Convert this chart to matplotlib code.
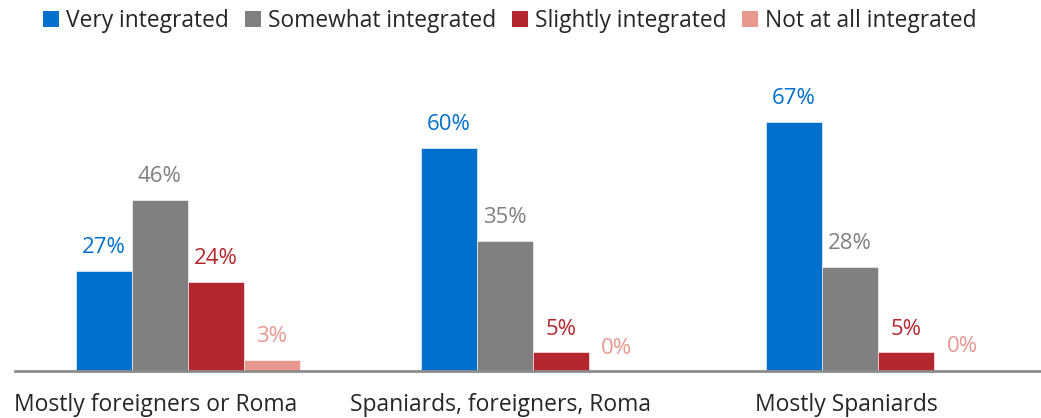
import matplotlib
matplotlib.use("Agg")
import matplotlib.pyplot as plt
import matplotlib.transforms as mtransforms
from matplotlib.patches import Patch
import numpy as np

categories = ["Mostly foreigners or Roma", "Spaniards, foreigners, Roma", "Mostly Spaniards"]
series = ["Very integrated", "Somewhat integrated", "Slightly integrated", "Not at all integrated"]
very = [27, 60, 67]
somewhat = [46, 35, 28]
slightly = [24, 5, 5]
not_at_all = [3, 0, 0.3]
labels_not_at_all = ["3%", "0%", "0%"]

colors = ["#0070CC", "#808080", "#B5272E", "#E8988F"]
text_color = "#262626"

plt.rcParams['font.family'] = ['Open Sans', 'DejaVu Sans']

fig = plt.figure(figsize=(10.41, 4.18), dpi=100)
ax = fig.add_axes([15/1041, 47/418, 1 - 15/1041, 279/418])

values = [very, somewhat, slightly, not_at_all]
x = np.arange(len(categories))
bw = 0.1623
offsets = (np.arange(4) - 1.5) * bw
for i, (vals, col) in enumerate(zip(values, colors)):
    bars = ax.bar(x + offsets[i], vals, width=bw, color=col, edgecolor='white', linewidth=0.4)
    for j, (b, v) in enumerate(zip(bars, vals)):
        lab = labels_not_at_all[j] if i == 3 else f"{v:.0f}%"
        ax.annotate(lab, (b.get_x() + b.get_width()/2, b.get_height()),
                    xytext=(0, 9), textcoords='offset points', ha='center', va='bottom',
                    color=col, fontsize=16)

ax.set_xlim(-0.5, 2 + (1041 - 878) / 345)
ax.set_ylim(0, 75)
ax.set_xticks(x)
ax.set_xticklabels(categories, fontsize=16.5, color=text_color)
ax.tick_params(axis='x', length=0, pad=16)
shift = mtransforms.ScaledTranslation(-32/100, 0, fig.dpi_scale_trans)
for lbl in ax.get_xticklabels():
    lbl.set_transform(lbl.get_transform() + shift)
ax.set_yticks([])
for s in ['top', 'right', 'left']:
    ax.spines[s].set_visible(False)
ax.spines['bottom'].set_color('#8C8C8C')
ax.spines['bottom'].set_linewidth(2)

handles = [Patch(facecolor=c, edgecolor='none') for c in colors]
fig.legend(handles, series, loc='center', bbox_to_anchor=(0.49, 1 - 21/418), ncol=4,
           frameon=False, fontsize=16.4, handlelength=0.7, handleheight=0.7,
           handletextpad=0.3, columnspacing=0.7, labelcolor=text_color, borderpad=0)

fig.savefig("out.png", dpi=100)
